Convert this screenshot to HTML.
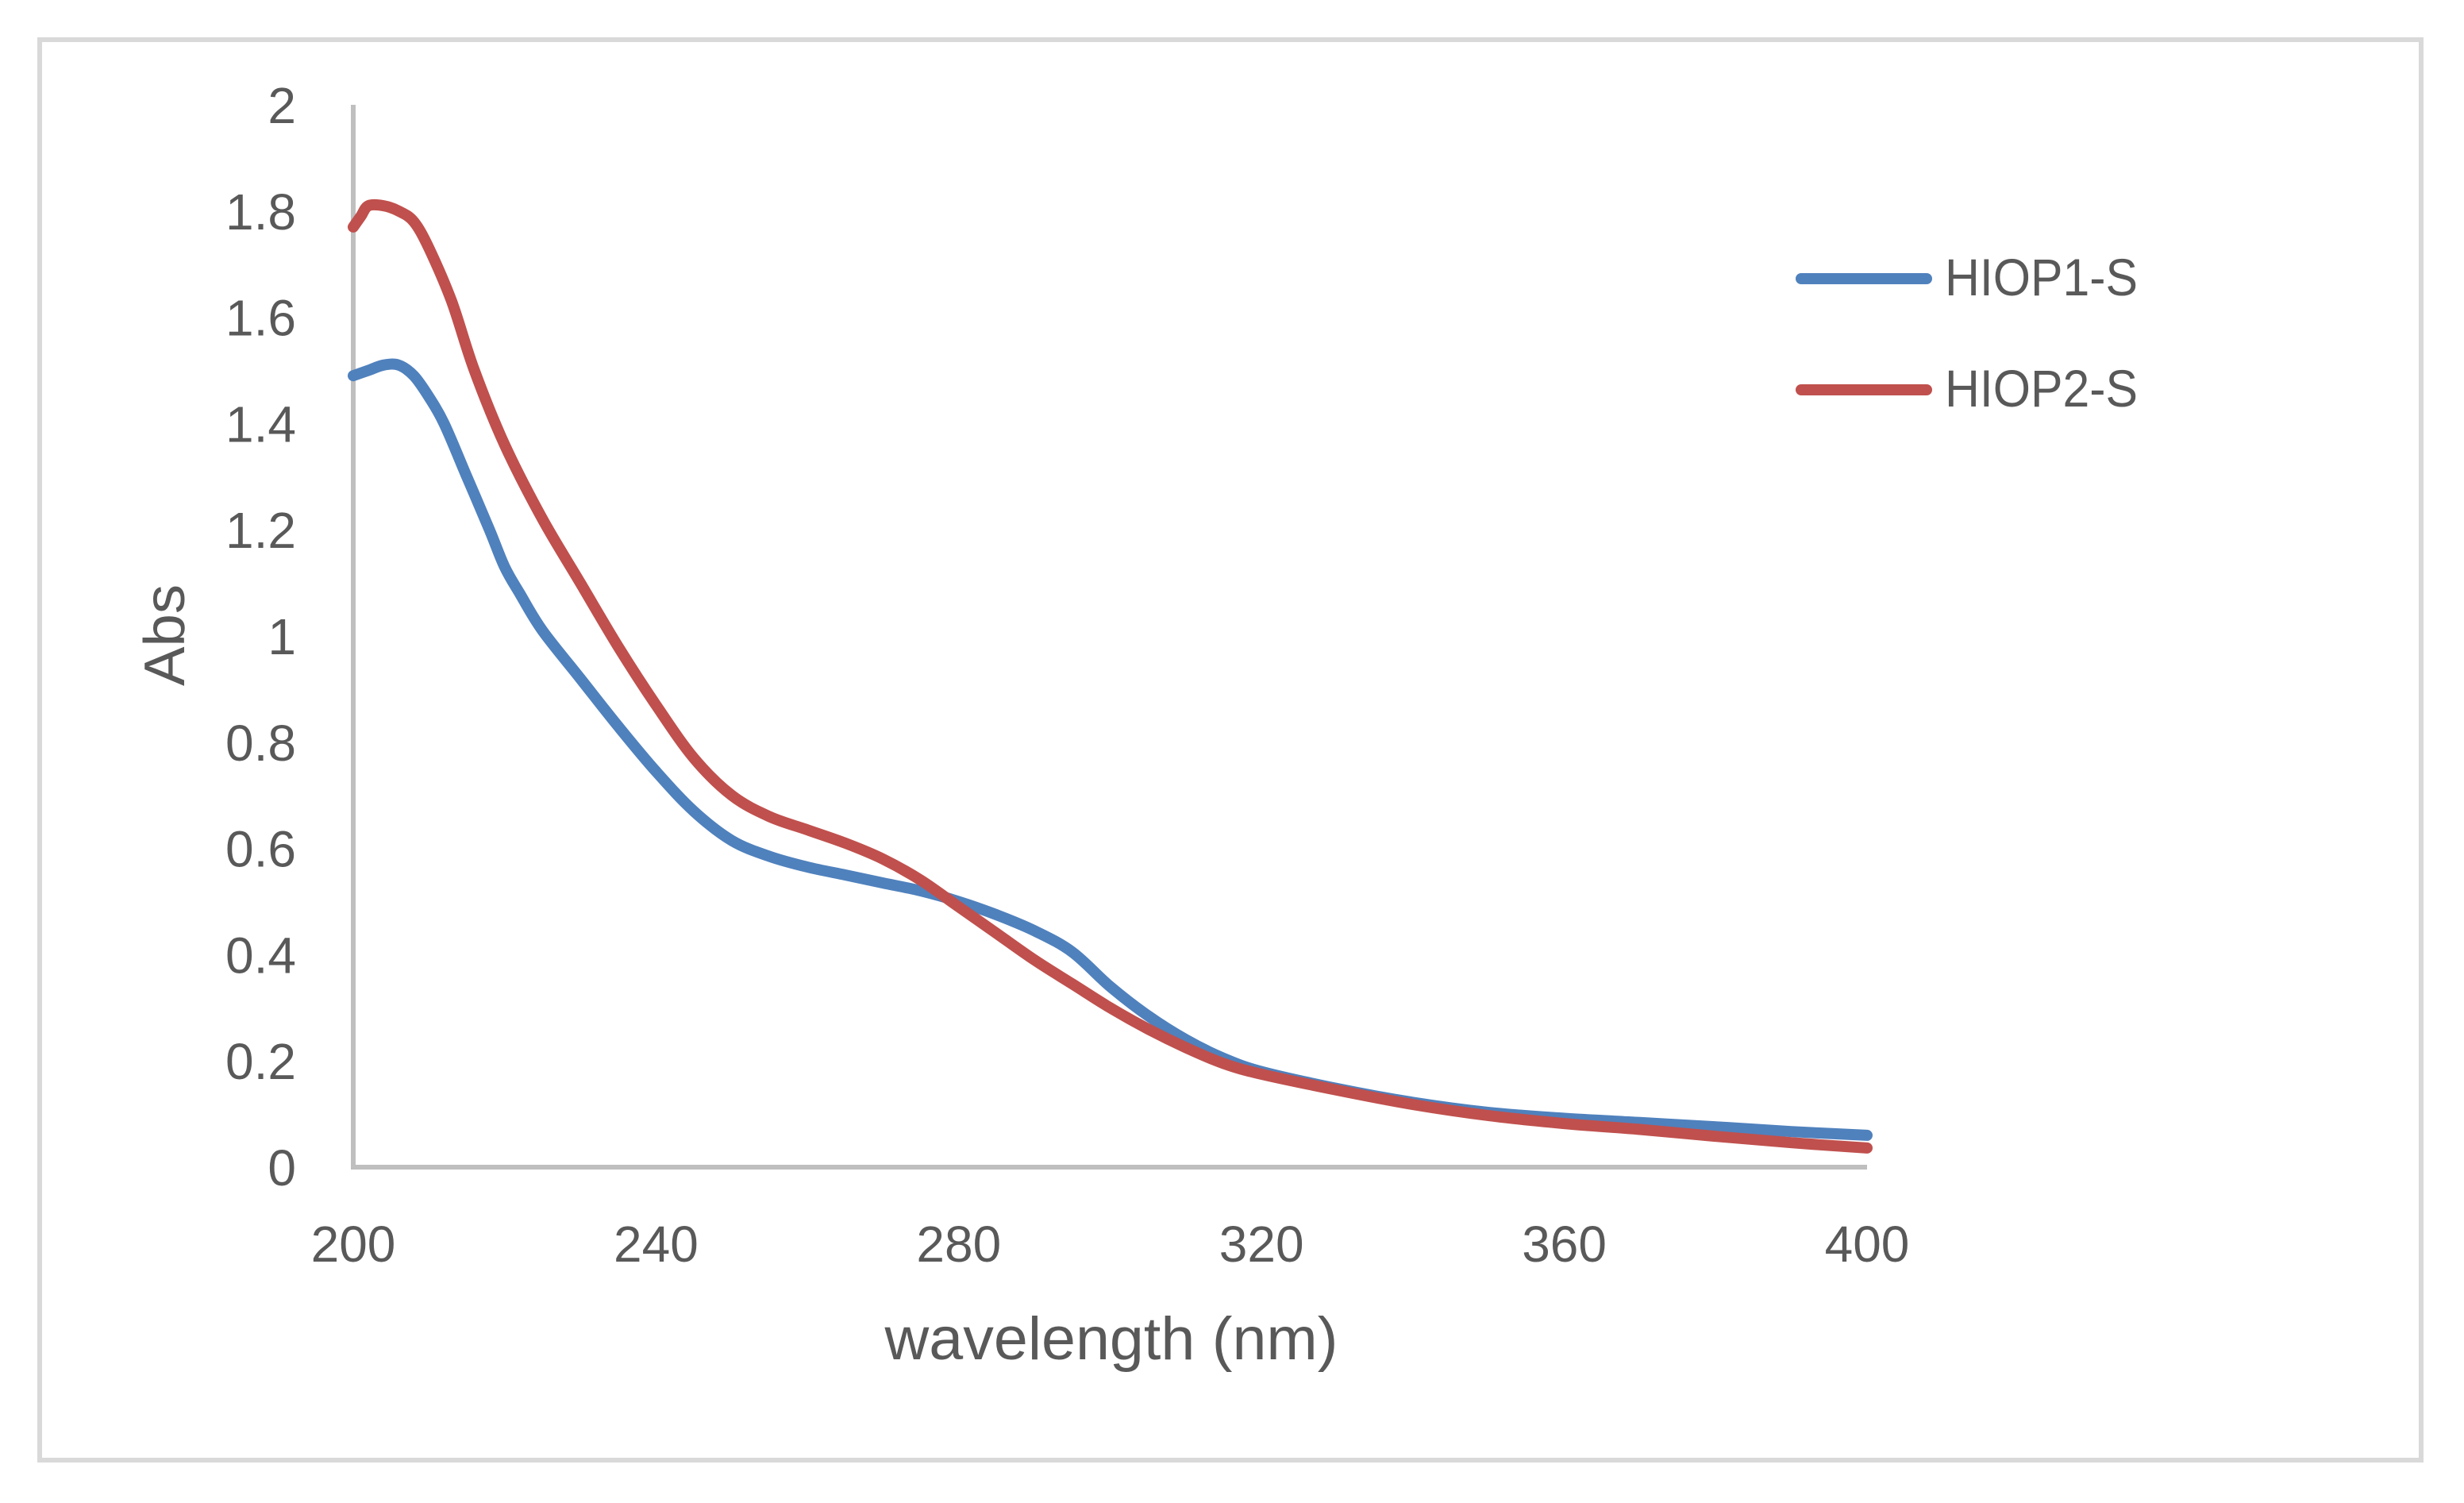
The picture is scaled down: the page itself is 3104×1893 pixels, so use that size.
<!DOCTYPE html>
<html><head><meta charset="utf-8"><style>
html,body{margin:0;padding:0;background:#fff;}
svg{display:block;}
text{font-family:"Liberation Sans",sans-serif;fill:#595959;}
</style></head><body>
<svg id="chart" width="3104" height="1893" viewBox="0 0 3104 1893" xmlns="http://www.w3.org/2000/svg">
<rect x="50" y="50" width="3000" height="1789" fill="#fff" stroke="#d9d9d9" stroke-width="6"/>
<g id="axes"></g>
<g id="series"></g>
<text transform="translate(232,800) rotate(-90)" text-anchor="middle" font-size="72" textLength="128" lengthAdjust="spacingAndGlyphs">Abs</text>
<text x="1400" y="1712" text-anchor="middle" font-size="76" textLength="571" lengthAdjust="spacingAndGlyphs">wavelength (nm)</text>
<g>
<line x1="2269" y1="351" x2="2427" y2="351" stroke="#4f81bd" stroke-width="14" stroke-linecap="round"/>
<text x="2450" y="372" font-size="66" textLength="243" lengthAdjust="spacingAndGlyphs">HIOP1-S</text>
<line x1="2269" y1="491" x2="2427" y2="491" stroke="#c0504d" stroke-width="14" stroke-linecap="round"/>
<text x="2450" y="512" font-size="66" textLength="243" lengthAdjust="spacingAndGlyphs">HIOP2-S</text>
</g>
</svg>
<script>
const xTicks = [200, 240, 280, 320, 360, 400];
const yTicks = [0, 0.2, 0.4, 0.6, 0.8, 1, 1.2, 1.4, 1.6, 1.8, 2];
const wavelengths1 = [200,202,204,206,208,210,212,215,218,220,222,225,230,235,240,245,250,255,260,265,270,275,280,285,290,295,300,305,310,315,320,330,340,350,360,370,380,390,400];
const hiop1 = [1.49,1.50,1.51,1.51,1.49,1.45,1.40,1.30,1.20,1.13,1.08,1.01,0.92,0.83,0.745,0.67,0.615,0.585,0.565,0.55,0.535,0.52,0.50,0.475,0.445,0.405,0.34,0.285,0.24,0.205,0.18,0.148,0.122,0.103,0.092,0.084,0.076,0.067,0.06];
const wavelengths2 = [200,201,202,204,206,208,210,213,216,220,225,230,235,240,245,250,255,260,265,270,275,280,285,290,295,300,305,310,315,320,330,340,350,360,370,380,390,400];
const hiop2 = [1.77,1.79,1.81,1.81,1.80,1.78,1.73,1.63,1.50,1.36,1.22,1.10,0.98,0.87,0.77,0.70,0.66,0.635,0.61,0.58,0.54,0.49,0.44,0.39,0.345,0.30,0.26,0.225,0.195,0.175,0.145,0.118,0.097,0.082,0.071,0.058,0.046,0.036];

const X0 = 445, X1 = 2352, Y0 = 1470, Y1 = 132;
function xs(v){ return X0 + (v - 200) / 200 * (X1 - X0); }
function ys(v){ return Y0 - v / 2 * (Y0 - Y1); }
const NS = "http://www.w3.org/2000/svg";
const axes = document.getElementById('axes');
const series = document.getElementById('series');

const ya = document.createElementNS(NS, 'line');


ya.setAttribute('x1', X0); ya.setAttribute('x2', X0);
ya.setAttribute('y1', Y1); ya.setAttribute('y2', Y0 + 3);
ya.setAttribute('stroke', '#bfbfbf'); ya.setAttribute('stroke-width', '6');
axes.appendChild(ya);

const xa = document.createElementNS(NS, 'line');


xa.setAttribute('x1', X0 - 3); xa.setAttribute('x2', X1);
xa.setAttribute('y1', Y0); xa.setAttribute('y2', Y0);
xa.setAttribute('stroke', '#bfbfbf'); xa.setAttribute('stroke-width', '6');
axes.appendChild(xa);

yTicks.forEach(function(v){
  const t = document.createElementNS(NS, 'text');
  
  
  t.setAttribute('x', 373);
  t.setAttribute('y', ys(v) + 23);
  t.setAttribute('text-anchor', 'end');
  t.setAttribute('font-size', '64');
  t.textContent = String(v);
  axes.appendChild(t);
});
xTicks.forEach(function(v){
  const t = document.createElementNS(NS, 'text');
  
  
  t.setAttribute('x', xs(v));
  t.setAttribute('y', 1589);
  t.setAttribute('text-anchor', 'middle');
  t.setAttribute('font-size', '64');
  t.textContent = String(v);
  axes.appendChild(t);
});

function draw(xv, yv, color, name){
  const P = xv.map(function(x, i){ return [xs(x), ys(yv[i])]; });
  let d = 'M' + P[0][0].toFixed(1) + ',' + P[0][1].toFixed(1);
  for (let i = 0; i < P.length - 1; i++) {
    const p0 = P[Math.max(0, i - 1)], p1 = P[i], p2 = P[i + 1], p3 = P[Math.min(P.length - 1, i + 2)];
    const c1x = p1[0] + (p2[0] - p0[0]) / 6, c1y = p1[1] + (p2[1] - p0[1]) / 6;
    const c2x = p2[0] - (p3[0] - p1[0]) / 6, c2y = p2[1] - (p3[1] - p1[1]) / 6;
    d += 'C' + c1x.toFixed(1) + ',' + c1y.toFixed(1) + ' ' + c2x.toFixed(1) + ',' + c2y.toFixed(1) + ' ' + p2[0].toFixed(1) + ',' + p2[1].toFixed(1);
  }
  const p = document.createElementNS(NS, 'path');
  
  
  p.setAttribute('d', d);
  p.setAttribute('fill', 'none');
  p.setAttribute('stroke', color);
  p.setAttribute('stroke-width', '14');
  p.setAttribute('stroke-linejoin', 'round');
  p.setAttribute('stroke-linecap', 'round');
  series.appendChild(p);
}
draw(wavelengths1, hiop1, '#4f81bd', 'series-hiop1-line');
draw(wavelengths2, hiop2, '#c0504d', 'series-hiop2-line');
</script>
</body></html>
